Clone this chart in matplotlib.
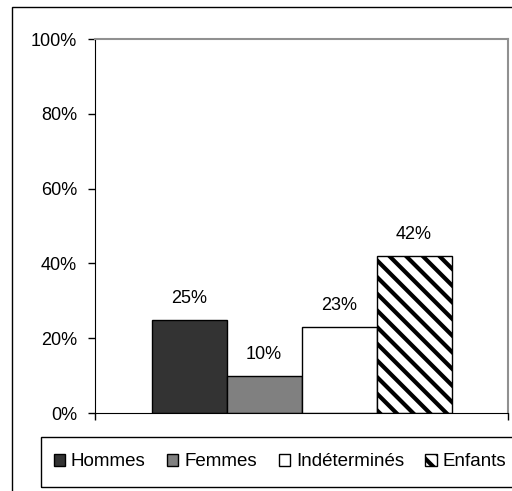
import matplotlib
matplotlib.use("Agg")
import matplotlib.pyplot as plt
from matplotlib.patches import Rectangle, Patch

categories = ["Hommes", "Femmes", "Indéterminés", "Enfants"]
values = [25, 10, 23, 42]
labels = ["25%", "10%", "23%", "42%"]
colors = ["#333333", "#808080", "white", "white"]
hatches = ["", "", "", "\\\\"]
yticks = [0, 20, 40, 60, 80, 100]

plt.rcParams["font.family"] = ["Liberation Sans", "DejaVu Sans"]
plt.rcParams["hatch.linewidth"] = 3.0
plt.rcParams["hatch.color"] = "#1a1a1a"

W, H = 512, 491
fig = plt.figure(figsize=(W / 100, H / 100), dpi=100)

# outer frame (cut off on right/bottom)
fig.patches.append(Rectangle((12 / W, -0.05), 1.2, (H - 7) / H + 0.05,
                             transform=fig.transFigure, fill=False,
                             edgecolor="black", linewidth=1.0))

ax = fig.add_axes([95 / W, (H - 413) / H, (508 - 95) / W, (413 - 39) / H])

bw = 75 / 413
n = len(values)
xs = [(i - (n - 1) / 2) * bw for i in range(n)]
bars = ax.bar(xs, values, width=bw, color=colors, edgecolor="black",
              linewidth=1.0)
for b, h in zip(bars, hatches):
    if h:
        b.set_hatch(h)
for x, v, lab in zip(xs, values, labels):
    ax.annotate(lab, (x, v), xytext=(0, 9), textcoords="offset points",
                ha="center", va="bottom", fontsize=13)

ax.set_xlim(-0.5, 0.5)
ax.set_ylim(0, 100)
ax.set_yticks(yticks)
ax.set_yticklabels([f"{t}%" for t in yticks], fontsize=13)
ax.set_xticks([-0.5, 0.5])
ax.set_xticklabels([])
ax.tick_params(axis="both", direction="out", length=5, width=1, pad=8)
for s in ["top", "right"]:
    ax.spines[s].set_color("#909090")
    ax.spines[s].set_linewidth(1.5)

# legend box
fig.patches.append(Rectangle((41 / W, (H - 487) / H), 1.0, 50 / H,
                             transform=fig.transFigure, fill=False,
                             edgecolor="black", linewidth=1.0))
handles = [Patch(facecolor=c, edgecolor="black", hatch=h, label=cat)
           for c, h, cat in zip(colors, hatches, categories)]
fig.legend(handles=handles, loc="center left", ncol=4,
           bbox_to_anchor=(46 / W, (H - 462) / H), frameon=False,
           fontsize=13.5, handlelength=0.6, handleheight=0.6,
           handletextpad=0.32, columnspacing=1.15, borderaxespad=0)

fig.savefig("out.png", dpi=100)
